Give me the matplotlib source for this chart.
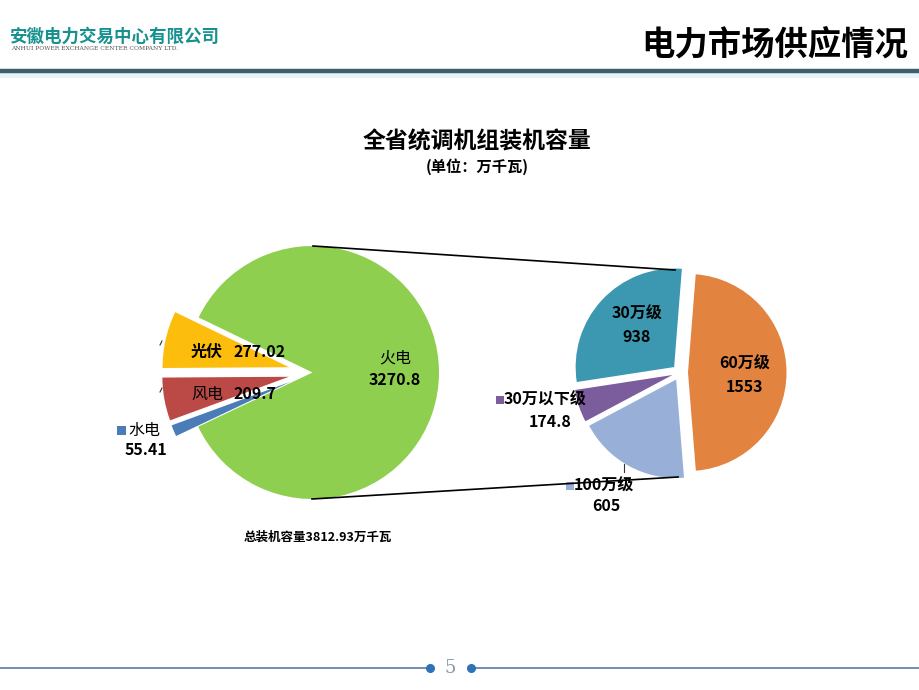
import numpy as np
import matplotlib
matplotlib.use("Agg")
import matplotlib.pyplot as plt
from matplotlib.patches import Rectangle

plt.rcParams['font.family'] = ['Noto Sans CJK SC', 'DejaVu Sans']

# ---------------- data ----------------
main_labels = ['火电', '光伏', '风电', '水电']
main_values = [3270.8, 277.02, 209.7, 55.41]
main_colors = ['#8fcf4f', '#fcbd0c', '#bb4a47', '#4a7db8']

sub_labels = ['30万级', '30万以下级', '100万级', '60万级']
sub_values = [938, 174.8, 605, 1553]
sub_colors = ['#3c98b0', '#7b5c9c', '#98b0d8', '#e2833f']

total_value = 3812.93
chart_title = '全省统调机组装机容量'
chart_unit = '(单位：万千瓦)'
slide_title = '电力市场供应情况'
company_cn = '安徽电力交易中心有限公司'
company_en = 'ANHUI POWER EXCHANGE CENTER COMPANY LTD.'
page_no = '5'

W, H = 920, 690
fig = plt.figure(figsize=(W / 100, H / 100), dpi=100)
ax = fig.add_axes([0, 0, 1, 1])

def Y(py):
    return H - py

# ---------------- pies ----------------
c1 = (312.5, Y(372.5)); r1 = 126.5
green_span = 360 * main_values[0] / sum(main_values)
start1 = 154.2 - green_span  # green ends where the small slices begin
ax.pie(main_values, colors=main_colors, startangle=start1, counterclock=True,
       center=c1, radius=r1, explode=[0, 24, 24, 24],
       wedgeprops=dict(linewidth=0), frame=True)

c2 = (680, Y(372.5)); r2 = 98.5
start2 = 85.5
ax.pie(sub_values, colors=sub_colors, startangle=start2, counterclock=True,
       center=c2, radius=r2, explode=[8, 8, 8, 8],
       wedgeprops=dict(linewidth=0), frame=True)

# connector lines
ax.plot([313, 675], [Y(246), Y(270)], color='black', lw=1.2)
ax.plot([312, 678], [Y(499), Y(477)], color='black', lw=1.2)

# ---------------- labels ----------------
fs = 11.5
ax.text(395, Y(358), main_labels[0], ha='center', va='center', fontsize=fs)
ax.text(395, Y(380), f'{main_values[0]}', ha='center', va='center', fontsize=fs, fontweight='bold')
ax.text(191, Y(352), main_labels[1], ha='left', va='center', fontsize=fs, fontweight='bold')
ax.text(234, Y(352), f'{main_values[1]:.2f}', ha='left', va='center', fontsize=fs, fontweight='bold')
ax.text(191, Y(394), main_labels[2], ha='left', va='center', fontsize=fs)
ax.text(234, Y(394), f'{main_values[2]}', ha='left', va='center', fontsize=fs, fontweight='bold')
ax.add_patch(Rectangle((117, Y(435)), 9, 9, color=main_colors[3], lw=0))
ax.text(128, Y(430), main_labels[3], ha='left', va='center', fontsize=fs)
ax.text(146, Y(450), f'{main_values[3]}', ha='center', va='center', fontsize=fs, fontweight='bold')
ax.plot([160, 162], [Y(345), Y(341)], color='#333333', lw=0.8)
ax.plot([160, 162], [Y(392), Y(388)], color='#333333', lw=0.8)

ax.text(637, Y(314), sub_labels[0], ha='center', va='center', fontsize=fs, fontweight='bold')
ax.text(637, Y(337), f'{sub_values[0]}', ha='center', va='center', fontsize=fs, fontweight='bold')
ax.text(745, Y(364), sub_labels[3], ha='center', va='center', fontsize=fs, fontweight='bold')
ax.text(745, Y(387), f'{sub_values[3]}', ha='center', va='center', fontsize=fs, fontweight='bold')
ax.add_patch(Rectangle((496, Y(404)), 8, 8, color=sub_colors[1], lw=0))
ax.text(504, Y(400), sub_labels[1], ha='left', va='center', fontsize=fs, fontweight='bold')
ax.text(550, Y(422), f'{sub_values[1]}', ha='center', va='center', fontsize=fs, fontweight='bold')
ax.add_patch(Rectangle((566, Y(490)), 8, 8, color=sub_colors[2], lw=0))
ax.text(574, Y(486), sub_labels[2], ha='left', va='center', fontsize=fs, fontweight='bold')
ax.text(606, Y(506), f'{sub_values[2]}', ha='center', va='center', fontsize=fs, fontweight='bold')
ax.plot([624, 624], [Y(464), Y(472)], color='#333333', lw=0.8)

ax.text(477, Y(142), chart_title, ha='center', va='center', fontsize=16.5, fontweight='bold')
ax.text(477, Y(167), chart_unit, ha='center', va='center', fontsize=11, fontweight='bold')
ax.text(318, Y(537), f'总装机容量{total_value}万千瓦', ha='center', va='center', fontsize=9, fontweight='bold')

# ---------------- slide header / footer ----------------
ax.text(10, Y(37), company_cn, ha='left', va='center', fontsize=12.6, fontweight='bold', color='#17918f')
ax.text(11, Y(49), company_en, ha='left', va='center', fontsize=4.3, color='#555555', family='DejaVu Serif')
ax.text(908, Y(45), slide_title, ha='right', va='center', fontsize=24, fontweight='bold', color='black')
ax.add_patch(Rectangle((0, Y(78)), W, 6, color='#e8f5f6', lw=0))
ax.plot([0, W], [Y(70.5), Y(70.5)], color='#3e5f6e', lw=3.2, solid_capstyle='butt')

ax.plot([0, 430], [Y(668), Y(668)], color='#4a6f9c', lw=1.1)
ax.plot([471, W], [Y(668), Y(668)], color='#4a6f9c', lw=1.1)
ax.plot([430, 471], [Y(668), Y(668)], 'o', color='#2e72b8', ms=5.5)
ax.text(450.5, Y(668), page_no, ha='center', va='center', fontsize=13, color='#8a9aa8',
        family='DejaVu Serif')

ax.set_xlim(0, W)
ax.set_ylim(0, H)
ax.set_aspect('auto')
ax.axis('off')

fig.savefig('out.png', dpi=100)
